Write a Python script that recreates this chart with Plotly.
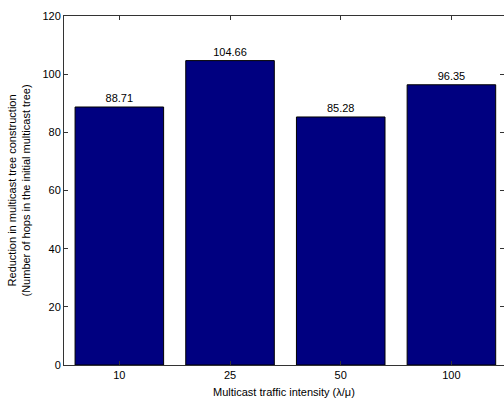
import plotly.graph_objects as go

categories = ["10", "25", "50", "100"]
values = [88.71, 104.66, 85.28, 96.35]
value_labels = ["88.71", "104.66", "85.28", "96.35"]
y_ticks = [0, 20, 40, 60, 80, 100, 120]

font_family = "Liberation Sans, Arial, sans-serif"

fig = go.Figure()
fig.add_trace(go.Bar(
    x=categories, y=values, width=0.8,
    marker=dict(color="#000080", line=dict(color="#000000", width=1)),
    text=value_labels, textposition="outside", cliponaxis=False,
    textfont=dict(size=11, color="#000000", family=font_family),
))

fig.update_layout(
    width=504, height=401,
    margin=dict(l=64, r=0, t=16, b=36),
    paper_bgcolor="white", plot_bgcolor="white",
    showlegend=False,
    font=dict(family=font_family, size=11, color="#000000"),
    xaxis=dict(
        type="category", range=[-0.5, 3.475],
        showline=True, linecolor="#333333", linewidth=1, mirror="ticks",
        ticks="inside", ticklen=4, tickcolor="#333333",
        showgrid=False, tickfont=dict(size=11), automargin=False,
    ),
    yaxis=dict(
        range=[0, 120], tickvals=y_ticks,
        showline=True, linecolor="#333333", linewidth=1, mirror="ticks",
        ticks="inside", ticklen=4, tickcolor="#333333",
        showgrid=False, zeroline=False, tickfont=dict(size=11), automargin=False,
    ),
    annotations=[
        dict(text="Reduction in multicast tree construction<br>(Number of hops in the initial multicast tree)",
             xref="paper", yref="paper", x=0, y=0.5, xshift=-46, textangle=-90,
             showarrow=False, font=dict(size=11), xanchor="center", yanchor="middle"),
        dict(text="Multicast traffic intensity (λ/μ)",
             xref="paper", yref="paper", x=0.5, y=0, yshift=-27,
             showarrow=False, font=dict(size=11), xanchor="center", yanchor="middle"),
    ],
)

fig.write_html(
    "out.html",
    config={"displayModeBar": False},
    post_script="document.body.style.margin='0';document.body.style.overflow='hidden';",
)
